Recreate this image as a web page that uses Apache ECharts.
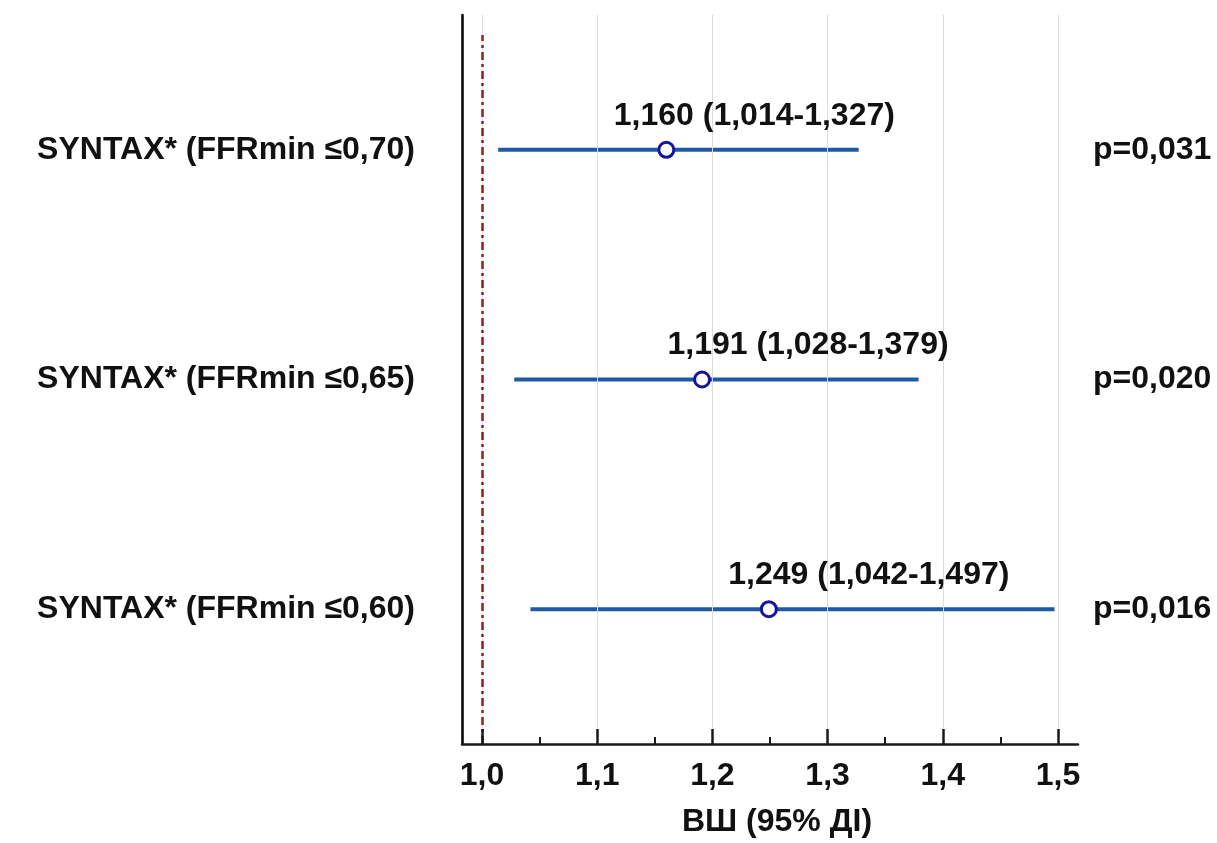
<!DOCTYPE html>
<html><head><meta charset="utf-8">
<script src="https://cdn.jsdelivr.net/npm/echarts@6/dist/echarts.min.js"></script>
<style>html,body{margin:0;padding:0;background:#fff}#c{width:1217px;height:843px}</style>
</head><body><div id="c"></div>
<script>
// ---- data ----
const categories = ['SYNTAX* (FFRmin ≤0,70)', 'SYNTAX* (FFRmin ≤0,65)', 'SYNTAX* (FFRmin ≤0,60)'];
const orValues = [1.160, 1.191, 1.249];
const ciLower = [1.014, 1.028, 1.042];
const ciUpper = [1.327, 1.379, 1.497];
const pValues = ['p=0,031', 'p=0,020', 'p=0,016'];
const xTicks = [1.0, 1.1, 1.2, 1.3, 1.4, 1.5];
const xMinorTicks = [1.05, 1.15, 1.25, 1.35, 1.45];
const xTickLabels = ['1,0', '1,1', '1,2', '1,3', '1,4', '1,5'];
const refValue = 1.0;
const xName = 'ВШ (95% ДІ)';

// ---- layout / style ----
const labelShift = [88, 106, 100];
const X_MIN = 0.9826, X_MAX = 1.5174;
const Y_MIN = -0.587, Y_MAX = 2.587;
const REF_TOP = 2.5;
const FONT = "'Liberation Sans', Arial, sans-serif";
const FS = 32;

const n = categories.length;
const rowY = i => n - 1 - i;
const fmt = v => v.toFixed(3).replace('.', ',');
const rows = categories.map((c, i) => rowY(i));
const labelForY = (arr) => (v) => {
  const i = n - 1 - Math.round(v);
  return arr[i] !== undefined ? arr[i] : '';
};

const chart = echarts.init(document.getElementById('c'), null, {renderer: 'canvas'});
const baseX = {
  type: 'value', min: X_MIN, max: X_MAX, position: 'bottom', z: 10,
  splitLine: {show: false}
};
chart.setOption({
  animation: false,
  backgroundColor: '#fff',
  textStyle: {fontFamily: FONT},
  grid: {left: 462, right: 139, top: 15, bottom: 98, containLabel: false},
  xAxis: [
    Object.assign({}, baseX, {
      name: xName, nameLocation: 'middle', nameGap: 62,
      nameTextStyle: {fontFamily: FONT, fontWeight: 'bold', fontSize: FS, color: '#111', padding: [0, 0, 0, 14]},
      axisLine: {show: true, onZero: false, lineStyle: {color: '#1a1a1a', width: 2.5}},
      axisTick: {show: true, inside: true, length: 15, customValues: xTicks, lineStyle: {color: '#1a1a1a', width: 2.5}},
      axisLabel: {show: true, customValues: xTicks, margin: 16,
        formatter: v => { const k = xTicks.findIndex(t => Math.abs(t - v) < 1e-6); return k >= 0 ? xTickLabels[k] : ''; },
        fontFamily: FONT, fontWeight: 'bold', fontSize: FS, color: '#111'}
    }),
    Object.assign({}, baseX, {
      axisLine: {show: false, onZero: false},
      axisTick: {show: true, inside: true, length: 7, customValues: xMinorTicks, lineStyle: {color: '#1a1a1a', width: 2}},
      axisLabel: {show: false}
    })
  ],
  yAxis: [
    {
      type: 'value', min: Y_MIN, max: Y_MAX, position: 'left', z: 10,
      splitLine: {show: false},
      axisLine: {show: true, onZero: false, lineStyle: {color: '#000', width: 2.5}},
      axisTick: {show: false},
      axisLabel: {show: true, customValues: rows, margin: 47,
        formatter: labelForY(categories),
        fontFamily: FONT, fontWeight: 'bold', fontSize: FS, color: '#111'}
    },
    {
      type: 'value', min: Y_MIN, max: Y_MAX, position: 'right', z: 10,
      splitLine: {show: false},
      axisLine: {show: false, onZero: false},
      axisTick: {show: false},
      axisLabel: {show: true, customValues: rows, margin: 15, align: 'left',
        padding: [0, 0, 20, 0],
        formatter: labelForY(pValues),
        fontFamily: FONT, fontWeight: 'bold', fontSize: FS, color: '#111'}
    }
  ],
  series: [
    {
      type: 'scatter', symbolSize: 0, silent: true, data: [],
      markLine: {
        silent: true, symbol: 'none', label: {show: false},
        lineStyle: {color: '#dcdcdc', width: 1, type: 'solid'},
        data: xTicks.map(t => ({xAxis: t}))
      }
    },
    {
      type: 'scatter', symbolSize: 0, silent: true, data: [], z: 3,
      markLine: {
        silent: true, symbol: 'none', label: {show: false},
        lineStyle: {color: '#8e1f1f', width: 2.5, type: [8, 4, 3, 4]},
        data: [[{coord: [refValue, Y_MIN]}, {coord: [refValue, REF_TOP]}]]
      }
    },
    {
      type: 'custom', z: 4,
      renderItem(params, api) {
        const y = api.value(2);
        const p1 = api.coord([api.value(0), y]);
        const p2 = api.coord([api.value(1), y]);
        return {type: 'line', shape: {x1: p1[0], y1: p1[1], x2: p2[0], y2: p2[1]},
          style: {stroke: '#1f59a5', lineWidth: 4}};
      },
      encode: {x: [0, 1], y: 2},
      data: ciLower.map((l, i) => [l, ciUpper[i], rowY(i)])
    },
    {
      type: 'scatter', z: 5,
      symbol: 'circle', symbolSize: 15,
      itemStyle: {color: '#ffffff', borderColor: '#1414a0', borderWidth: 3, opacity: 1},
      label: {show: true, position: 'top', distance: 9,
        fontFamily: FONT, fontWeight: 'bold', fontSize: FS, color: '#111',
        formatter: p => fmt(orValues[p.dataIndex]) + ' (' + fmt(ciLower[p.dataIndex]) + '-' + fmt(ciUpper[p.dataIndex]) + ')'},
      data: orValues.map((v, i) => ({value: [v, rowY(i)], label: {offset: [labelShift[i], 0]}}))
    }
  ]
});
</script></body></html>
